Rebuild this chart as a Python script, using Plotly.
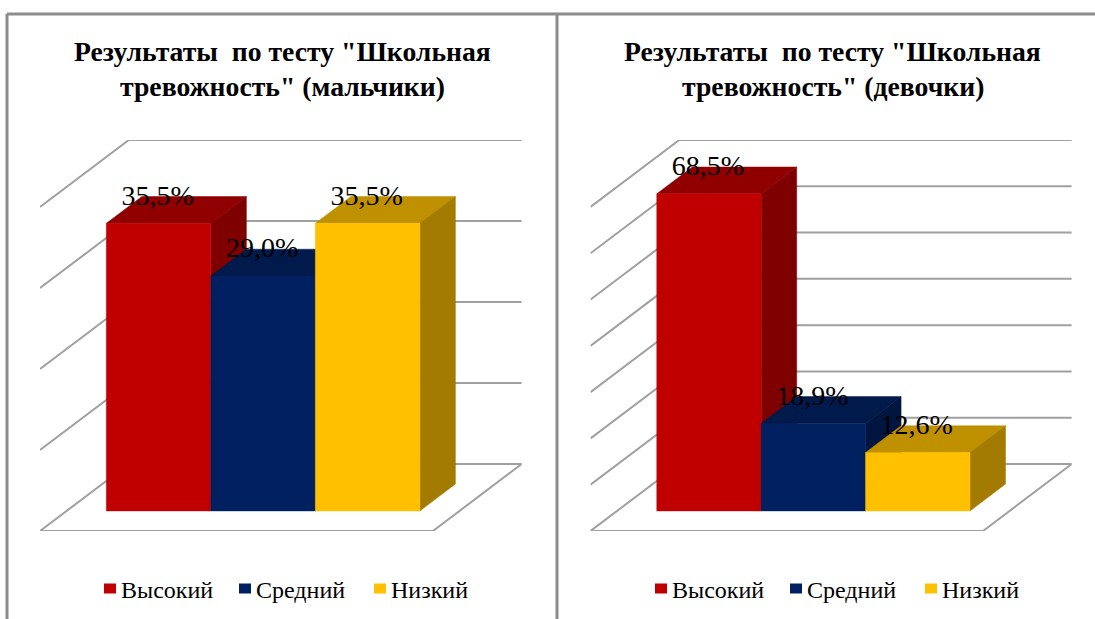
import plotly.graph_objects as go

categories = ["Высокий", "Средний", "Низкий"]
boys_values = [35.5, 29.0, 35.5]
girls_values = [68.5, 18.9, 12.6]
boys_ticks = [0, 10, 20, 30, 40]
girls_ticks = [0, 10, 20, 30, 40, 50, 60, 70]
boys_title = ['Результаты\u00a0 по тесту "Школьная', 'тревожность" (мальчики)']
girls_title = ['Результаты\u00a0 по тесту "Школьная', 'тревожность" (девочки)']

front_colors = ["#C00000", "#002060", "#FFC000"]
top_colors = ["#900000", "#001A4C", "#BF9000"]
side_colors = ["#7F0000", "#00153F", "#A37B00"]
GRID = "#A0A0A0"
FRAME = "#8C8C8C"
SERIF = "Liberation Serif"
W, H = 1095, 619

GAP = 0.38          # floor margin on each side, in bar widths
DEPTH_X = 0.85      # floor depth, in bar widths
BAR_NEAR, BAR_FAR = 0.30, 0.70   # share of the floor depth taken by the bars


def panel(fig, n, values, ticks, left_px, bar_px, title, title_px, legend_px):
    xa, ya = f"x{n}" if n > 1 else "x", f"y{n}" if n > 1 else "y"
    floor_w = len(values) + 2 * GAP
    y_max = ticks[-1]
    px_per_val = 324.0 / y_max
    depth_y = 67.0 / px_per_val

    def pt(x, v, d):
        return x + d * DEPTH_X, v + d * depth_y

    # walls and floor
    for t in ticks:
        p0, p1, p2 = pt(0, t, 0), pt(0, t, 1), pt(floor_w, t, 1)
        xs, ys = [p0[0], p1[0], p2[0]], [p0[1], p1[1], p2[1]]
        if t == 0:
            p3 = pt(floor_w, t, 0)
            xs, ys = [p1[0], p0[0], p3[0], p2[0], p1[0]], [p1[1], p0[1], p3[1], p2[1], p1[1]]
        fig.add_trace(go.Scatter(x=xs, y=ys, mode="lines", line=dict(color=GRID, width=2),
                                 hoverinfo="skip", showlegend=False, cliponaxis=False,
                                 xaxis=xa, yaxis=ya))

    def poly(corners, color):
        fig.add_trace(go.Scatter(x=[c[0] for c in corners] + [corners[0][0]],
                                 y=[c[1] for c in corners] + [corners[0][1]],
                                 mode="lines", fill="toself", fillcolor=color,
                                 line=dict(color=color, width=0.5), hoverinfo="skip",
                                 showlegend=False, cliponaxis=False, xaxis=xa, yaxis=ya))

    # bars, back to front from left to right
    for i, v in enumerate(values):
        x0, x1 = GAP + i, GAP + i + 1
        poly([pt(x0, v, BAR_NEAR), pt(x1, v, BAR_NEAR), pt(x1, v, BAR_FAR), pt(x0, v, BAR_FAR)], top_colors[i])
        poly([pt(x1, 0, BAR_NEAR), pt(x1, 0, BAR_FAR), pt(x1, v, BAR_FAR), pt(x1, v, BAR_NEAR)], side_colors[i])
        poly([pt(x0, 0, BAR_NEAR), pt(x1, 0, BAR_NEAR), pt(x1, v, BAR_NEAR), pt(x0, v, BAR_NEAR)], front_colors[i])

    # data labels
    for i, v in enumerate(values):
        fig.add_trace(go.Scatter(x=[GAP + i + 0.49 + BAR_NEAR * DEPTH_X], y=[v + BAR_FAR * depth_y - 0.9 * 8.1 / px_per_val * 0.15],
                                 mode="text", text=[f"{v:.1f}%".replace(".", ",")],
                                 textposition="middle center",
                                 textfont=dict(family=SERIF, size=28, color="#000000"),
                                 hoverinfo="skip", showlegend=False, cliponaxis=False,
                                 xaxis=xa, yaxis=ya))

    # legend entries: a dashed line key puts the square right next to its text
    lg = "legend" if n == 1 else f"legend{n}"
    for i, c in enumerate(categories):
        fig.add_trace(go.Scatter(x=[None], y=[None], mode="lines", name=c,
                                 line=dict(color=front_colors[i], width=12,
                                           dash="0px,18px,12px,60px"),
                                 legend=lg, xaxis=xa, yaxis=ya))

    total_x = floor_w + DEPTH_X
    x_axis = dict(domain=[left_px / W, (left_px + total_x * bar_px) / W],
                  range=[0, total_x], visible=False, fixedrange=True)
    total_y = y_max + depth_y
    y_axis = dict(domain=[(H - 531) / H, (H - 531 + total_y * px_per_val) / H],
                  range=[0, total_y], visible=False, fixedrange=True)
    fig.update_layout({("xaxis" if n == 1 else f"xaxis{n}"): x_axis,
                       ("yaxis" if n == 1 else f"yaxis{n}"): y_axis})
    for line, y_px in zip(title, [52, 86]):
        fig.add_annotation(x=title_px / W, y=(H - y_px) / H, xref="paper", yref="paper",
                           text=f"<b>{line}</b>", showarrow=False, align="center",
                           xanchor="center", yanchor="middle",
                           font=dict(family=SERIF, size=27.7, color="#000000"))
    fig.update_layout({lg: dict(orientation="h", x=legend_px / W, y=(H - 589) / H,
                                xanchor="left", yanchor="middle", indentation=-10,
                                entrywidth=100, entrywidthmode="pixels",
                                bgcolor="rgba(0,0,0,0)",
                                font=dict(family=SERIF, size=24, color="#000000"))})


fig = go.Figure()
panel(fig, 1, boys_values, boys_ticks, 40.0, 104.5, boys_title, 282, 91)
panel(fig, 2, girls_values, girls_ticks, 590.5, 104.4, girls_title, 833, 642)

for x0, y0, x1, y1 in [(7, 14, W, 14), (7, 14, 7, H), (557, 14, 557, H)]:
    fig.add_shape(type="line", xref="paper", yref="paper", x0=x0 / W, x1=x1 / W,
                  y0=(H - y0) / H, y1=(H - y1) / H, line=dict(color=FRAME, width=3))

fig.update_layout(width=W, height=H, margin=dict(l=0, r=0, t=0, b=0),
                  paper_bgcolor="white", plot_bgcolor="white")
fig.write_html("out.html", config={"displayModeBar": False},
               post_script="document.body.style.margin='0';")
